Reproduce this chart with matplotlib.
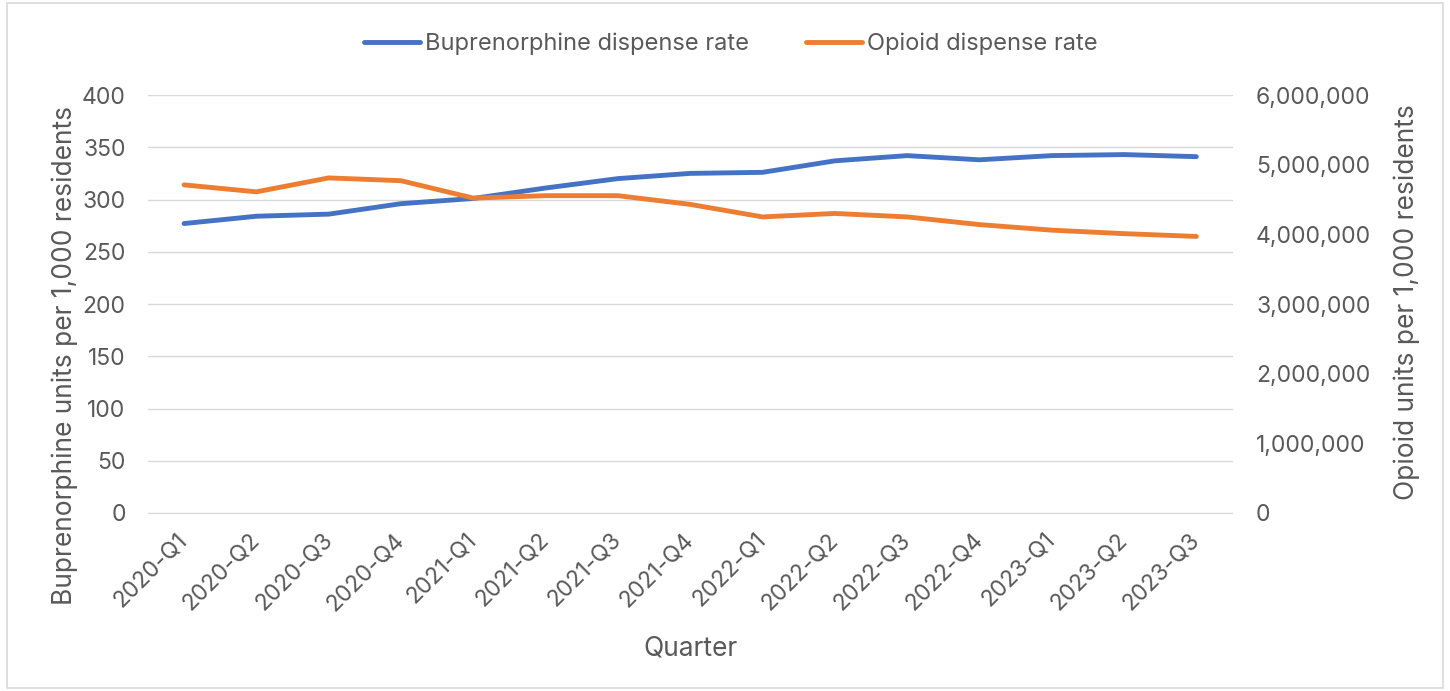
import matplotlib.pyplot as plt
from matplotlib.ticker import FuncFormatter
from matplotlib.patches import Rectangle

plt.rcParams['font.family'] = ['Inter', 'DejaVu Sans']

quarters = ["2020-Q1", "2020-Q2", "2020-Q3", "2020-Q4",
            "2021-Q1", "2021-Q2", "2021-Q3", "2021-Q4",
            "2022-Q1", "2022-Q2", "2022-Q3", "2022-Q4",
            "2023-Q1", "2023-Q2", "2023-Q3"]
bup_rate = [277, 284, 286, 296, 301, 311, 320, 325, 326, 337, 342, 338, 342, 343, 341]
opioid_rate = [4710000, 4610000, 4810000, 4770000, 4520000, 4555000, 4555000, 4430000,
               4250000, 4300000, 4250000, 4140000, 4060000, 4010000, 3970000]

BLUE = "#4472C4"
ORANGE = "#ED7D31"
GREY = "#595959"
GRID = "#D9D9D9"

fig = plt.figure(figsize=(14.5, 6.91), dpi=100)
ax = fig.add_axes([0.102, 0.2576, 0.748, 0.6049])
ax2 = ax.twinx()

x = range(len(quarters))
l1, = ax.plot(x, bup_rate, color=BLUE, lw=3.5, solid_capstyle="round", label="Buprenorphine dispense rate")
l2, = ax2.plot(x, opioid_rate, color=ORANGE, lw=3.5, solid_capstyle="round", label="Opioid dispense rate")

ax.set_xlim(-0.5, len(quarters) - 0.5)
ax.set_ylim(0, 400)
ax.set_yticks(range(0, 401, 50))
ax2.set_ylim(0, 6000000)
ax2.set_yticks(range(0, 6000001, 1000000))
ax2.yaxis.set_major_formatter(FuncFormatter(lambda v, p: f"{int(v):,}"))

ax.set_xticks(list(x))
ax.set_xticklabels(quarters, rotation=45, ha="right", va="center", rotation_mode="anchor")

ax.grid(axis="y", color=GRID, lw=1)
ax.set_axisbelow(True)
for a in (ax, ax2):
    for s in a.spines.values():
        s.set_visible(False)
    a.tick_params(length=0, colors=GREY, labelsize=16.5)
ax.tick_params(axis="y", pad=16)
ax2.tick_params(axis="y", pad=17)
ax.tick_params(axis="x", pad=17)
ax.spines["bottom"].set_visible(True)
ax.spines["bottom"].set_color(GRID)

# axis titles, placed by hand
ax.set_ylabel("Buprenorphine units per 1,000 residents", color=GREY, fontsize=19, va="center")
ax.yaxis.set_label_coords(-0.077, 0.378)
ax2.set_ylabel("Opioid units per 1,000 residents", color=GREY, fontsize=19, va="center")
ax2.yaxis.set_label_coords(1.161, 0.505)
ax.set_xlabel("Quarter", color=GREY, fontsize=19, va="center")
ax.xaxis.set_label_coords(0.5, -0.323)

fig.legend(handles=[l1, l2], loc="center", bbox_to_anchor=(0.504, 0.937), ncol=2,
           frameon=False, fontsize=17, labelcolor=GREY, handlelength=2.4,
           handletextpad=0.2, columnspacing=2.4)

fig.patches.append(Rectangle((0.005, 0.005), 0.99, 0.99, transform=fig.transFigure,
                             fill=False, edgecolor=GRID, lw=1.2))

fig.savefig("out.png", dpi=100)
